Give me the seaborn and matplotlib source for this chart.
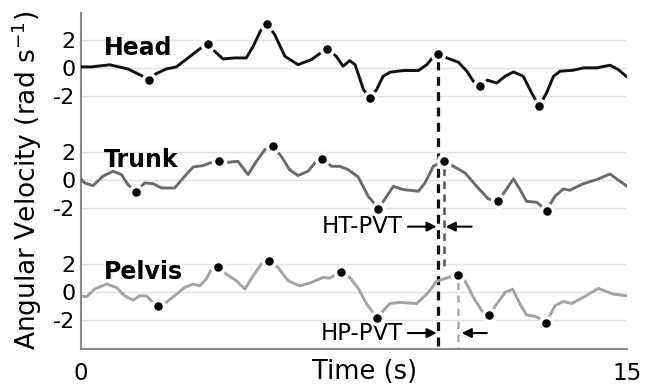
import numpy as np
import pandas as pd
import matplotlib
matplotlib.use("Agg")
import matplotlib.pyplot as plt
import seaborn as sns

# ---------------- data ----------------
segments = ["Head", "Trunk", "Pelvis"]
offsets = {"Head": 16, "Trunk": 8, "Pelvis": 0}
colors = {"Head": "#111111", "Trunk": "#6b6b6b", "Pelvis": "#a3a3a3"}

head_t = [0.00, 0.28, 0.79, 1.29, 1.66, 1.86, 2.07, 2.34, 2.62, 2.94,
          3.26, 3.49, 3.67, 3.90, 4.22, 4.54, 4.73, 4.94, 5.11, 5.32,
          5.60, 5.96, 6.33, 6.56, 6.77, 7.01, 7.20, 7.38, 7.53, 7.76,
          7.94, 8.12, 8.30, 8.49, 8.85, 9.27, 9.50, 9.63, 9.82, 10.05,
          10.37, 10.60, 10.78, 10.96, 11.16, 11.42, 11.65, 11.88, 12.15, 12.38,
          12.59, 12.79, 12.98, 13.16, 13.52, 13.80, 14.17, 14.53, 14.76, 15.00]
head_v = [0.05, 0.05, 0.20, -0.10, -0.57, -0.86, -0.43, -0.10, 0.05, 0.69,
          1.33, 1.71, 1.17, 0.62, 0.69, 0.69, 1.52, 2.67, 3.14, 2.36,
          0.81, 0.21, 0.57, 1.00, 1.36, 0.81, 0.10, 0.50, 0.21, -1.57,
          -2.17, -1.57, -0.62, -0.33, -0.21, -0.21, 0.21, 0.62, 0.98, 0.69,
          0.38, -0.26, -0.98, -1.33, -0.90, -1.10, -0.62, -0.31, -0.62, -1.81,
          -2.76, -1.81, -0.62, -0.26, -0.19, -0.02, -0.02, 0.17, -0.14, -0.67]

trunk_t = [0.00, 0.10, 0.33, 0.60, 0.88, 1.11, 1.29, 1.50, 1.75, 1.98,
           2.21, 2.57, 2.85, 3.08, 3.35, 3.54, 3.79, 4.08, 4.31, 4.59,
           4.82, 5.05, 5.27, 5.50, 5.73, 5.96, 6.24, 6.46, 6.62, 6.88,
           7.11, 7.34, 7.61, 7.89, 8.17, 8.40, 8.58, 8.85, 9.27, 9.45,
           9.68, 9.98, 10.23, 10.55, 10.87, 11.19, 11.46, 11.65, 11.88, 12.06,
           12.24, 12.52, 12.79, 13.02, 13.25, 13.43, 13.80, 14.17, 14.53, 15.00]
trunk_v = [0.05, -0.24, -0.43, 0.24, 0.60, 0.36, -0.36, -0.86, -0.24, -0.29,
           -0.60, -0.60, 0.24, 0.90, 1.00, 1.19, 1.31, 1.24, 1.31, 0.36,
           1.31, 2.14, 2.38, 1.67, 0.71, 0.29, 0.60, 1.31, 1.50, 0.95,
           0.95, 0.71, 0.20, -1.19, -2.07, -1.19, -0.48, -0.71, -0.83, -0.24,
           0.95, 1.36, 0.95, 0.48, -0.48, -1.38, -1.55, -0.83, 0.05, -0.71,
           -1.55, -1.62, -2.21, -1.19, -0.67, -0.76, -0.29, 0.00, 0.40, -0.48]

pelvis_t = [0.00, 0.15, 0.38, 0.70, 0.97, 1.20, 1.43, 1.61, 1.79, 1.93,
            2.12, 2.34, 2.57, 2.85, 3.08, 3.26, 3.44, 3.56, 3.76, 3.99,
            4.27, 4.50, 4.73, 4.95, 5.16, 5.41, 5.69, 6.01, 6.33, 6.65,
            6.83, 7.15, 7.38, 7.60, 7.85, 8.14, 8.30, 8.49, 8.76, 9.22,
            9.50, 9.77, 10.09, 10.35, 10.55, 10.78, 11.01, 11.22, 11.42, 11.65,
            11.86, 12.06, 12.24, 12.52, 12.77, 13.02, 13.25, 13.48, 13.80, 14.21,
            14.62, 15.00]
pelvis_v = [-0.30, -0.37, 0.18, 0.54, 0.30, -0.30, -0.61, -0.30, -0.30, -0.65,
            -1.04, -0.77, -0.30, 0.30, 0.54, 0.41, 0.89, 1.49, 1.77, 1.25,
            0.77, 0.18, 1.13, 1.96, 2.20, 1.73, 0.77, 0.41, 0.66, 1.01,
            0.96, 1.41, 1.01, 0.30, -0.89, -1.92, -1.37, -0.85, -0.77, -0.85,
            -0.18, 0.73, 1.01, 1.18, 0.77, -0.41, -1.37, -1.68, -0.89, -0.06,
            0.18, -0.89, -1.66, -1.80, -2.23, -1.01, -0.70, -0.85, -0.41, 0.23,
            -0.18, -0.30]

# marked peaks/valleys
head_evt_t = [1.86, 3.49, 5.11, 6.77, 7.94, 9.82, 10.96, 12.59]
head_evt_v = [-0.86, 1.71, 3.14, 1.36, -2.17, 0.98, -1.33, -2.76]
trunk_evt_t = [1.50, 3.79, 5.27, 6.62, 8.17, 9.98, 11.46, 12.79]
trunk_evt_v = [-0.86, 1.31, 2.38, 1.50, -2.07, 1.36, -1.55, -2.21]
pelvis_evt_t = [2.12, 3.76, 5.16, 7.15, 8.14, 10.35, 11.22, 12.77]
pelvis_evt_v = [-1.04, 1.77, 2.20, 1.41, -1.92, 1.18, -1.68, -2.23]

# peak velocity times used for the delays
pvt_head, pvt_trunk, pvt_pelvis = 9.82, 9.98, 10.35

ytick_vals = [-2, 0, 2]
xtick_vals = [0, 15]
xtick_labels = ["0", "15"]

# ---------------- build tables ----------------
series = {"Head": (head_t, head_v), "Trunk": (trunk_t, trunk_v), "Pelvis": (pelvis_t, pelvis_v)}
events = {"Head": (head_evt_t, head_evt_v), "Trunk": (trunk_evt_t, trunk_evt_v),
          "Pelvis": (pelvis_evt_t, pelvis_evt_v)}

curve_df = pd.concat([pd.DataFrame({"t": t, "v": np.array(v) + offsets[s], "segment": s})
                      for s, (t, v) in series.items()], ignore_index=True)
evt_df = pd.concat([pd.DataFrame({"t": t, "v": np.array(v) + offsets[s], "segment": s})
                    for s, (t, v) in events.items()], ignore_index=True)

# ---------------- plot ----------------
sns.set_style("white")
plt.rcParams["font.family"] = ["DejaVu Sans"]
plt.rcParams["text.color"] = "black"
plt.rcParams["axes.labelcolor"] = "black"
plt.rcParams["xtick.labelcolor"] = "black"
plt.rcParams["ytick.labelcolor"] = "black"

fig = plt.figure(figsize=(6.45, 3.9), dpi=100)
ax = fig.add_axes([0.1256, 0.1051, 0.8465, 0.8616])

ylo, yhi = -4.1, 19.9
ax.set_xlim(0, 15)
ax.set_ylim(ylo, yhi)

# vertical PVT markers
ax.plot([pvt_head, pvt_head], [head_evt_v[5] + offsets["Head"] - 0.5, ylo],
        color="#111111", lw=2.3, ls=(0, (2.8, 2.0)), zorder=3)
ax.plot([pvt_trunk, pvt_trunk], [trunk_evt_v[5] + offsets["Trunk"] - 0.5, 1.8],
        color="#555555", lw=1.8, ls=(0, (3.0, 2.2)), zorder=2)
ax.plot([pvt_pelvis, pvt_pelvis], [pelvis_evt_v[5] + offsets["Pelvis"] - 0.5, ylo],
        color="#aaaaaa", lw=1.8, ls=(0, (3.0, 2.2)), zorder=2)

sns.lineplot(data=curve_df, x="t", y="v", hue="segment", palette=colors,
             estimator=None, sort=False, lw=2.1, legend=False, ax=ax, zorder=4,
             solid_joinstyle="round", solid_capstyle="round")
sns.scatterplot(data=evt_df, x="t", y="v", color="black", s=75,
                edgecolor="white", linewidth=2.5, legend=False, ax=ax, zorder=5)

# segment labels
for s in segments:
    ax.text(0.63, offsets[s] + 0.9, s, fontsize=17, fontweight="bold",
            color="black", ha="left", va="baseline", zorder=6)

# delay annotations
arrow_kw = dict(arrowstyle="-|>", color="black", lw=1.5, mutation_scale=14,
                shrinkA=0, shrinkB=0)
y_ht = 4.64
ax.text(8.85, y_ht, "HT-PVT", fontsize=16.5, color="black", ha="right", va="center")
ax.annotate("", xy=(9.77, y_ht), xytext=(8.98, y_ht), arrowprops=arrow_kw)
ax.annotate("", xy=(10.02, y_ht), xytext=(10.73, y_ht), arrowprops=arrow_kw)
y_hp = -2.96
ax.text(8.85, y_hp, "HP-PVT", fontsize=16.5, color="black", ha="right", va="center")
ax.annotate("", xy=(9.77, y_hp), xytext=(8.98, y_hp), arrowprops=arrow_kw)
ax.annotate("", xy=(10.46, y_hp), xytext=(11.15, y_hp), arrowprops=arrow_kw)

# axes styling
yt = [v + offsets[s] for s in segments for v in ytick_vals]
ax.set_yticks(yt)
ax.set_yticklabels([str(v) for s in segments for v in ytick_vals])
ax.set_xticks(xtick_vals)
ax.set_xticklabels(xtick_labels)
ax.yaxis.grid(True, color="#e2e2e2", lw=1.0)
ax.xaxis.grid(False)
ax.set_axisbelow(True)
for side in ["top", "right"]:
    ax.spines[side].set_visible(False)
for side in ["left", "bottom"]:
    ax.spines[side].set_color("#8a8a8a")
    ax.spines[side].set_linewidth(1.5)
ax.tick_params(axis="y", length=0, pad=4, labelsize=16, labelcolor="black")
ax.tick_params(axis="x", direction="in", length=5, width=1.2, color="#8a8a8a",
               pad=9, labelsize=16.5, labelcolor="black")

ax.set_ylabel("Angular Velocity (rad s$^{-1}$)", fontsize=19, color="black")
ax.yaxis.set_label_coords(-0.068, 0.503)
ax.set_xlabel("Time (s)", fontsize=18.5, va="center", color="black")
ax.xaxis.set_label_coords(0.52, -0.068)

fig.savefig("out.png", dpi=100)
